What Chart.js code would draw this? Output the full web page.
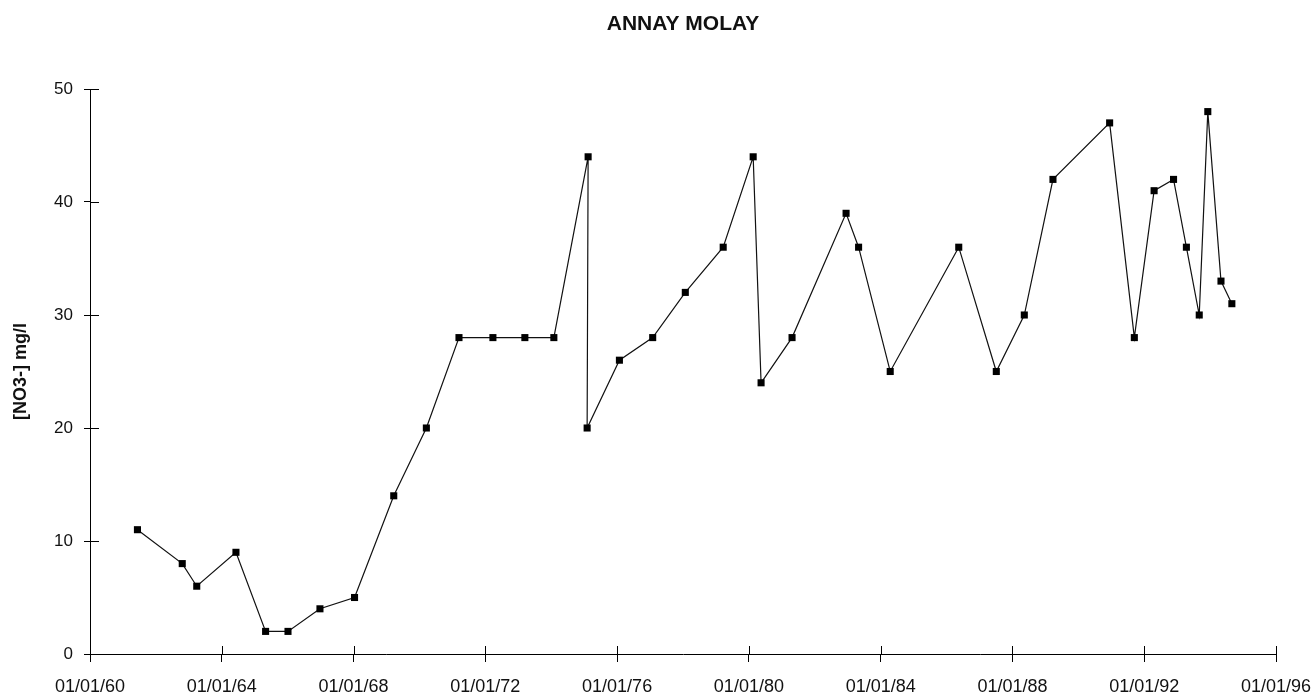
<!DOCTYPE html>
<html>
<head>
<meta charset="utf-8">
<script src="https://cdn.jsdelivr.net/npm/chart.js@4/dist/chart.umd.min.js"></script>
<style>
  html, body { margin: 0; padding: 0; background: #fff; }
  #wrap { width: 1312px; height: 697px; position: relative; }
</style>
</head>
<body>
<div id="wrap"><canvas id="no3Chart"></canvas></div>
<script>
// sample dates as decimal years
const sampleYears = [
  1961.44, 1962.80, 1963.24, 1964.43, 1965.33, 1966.01, 1966.98, 1968.03,
  1969.22, 1970.21, 1971.20, 1972.23, 1973.20, 1974.08, 1975.12, 1975.09,
  1976.07, 1977.08, 1978.07, 1979.22, 1980.13, 1980.37, 1981.31, 1982.95,
  1983.33, 1984.29, 1986.37, 1987.51, 1988.36, 1989.23, 1990.95, 1991.70,
  1992.30, 1992.89, 1993.28, 1993.67, 1993.93, 1994.33, 1994.66
];
// nitrate concentration, mg/l
const no3Values = [
  11, 8, 6, 9, 2, 2, 4, 5,
  14, 20, 28, 28, 28, 28, 44, 20,
  26, 28, 32, 36, 44, 24, 28, 39,
  36, 25, 36, 25, 30, 42, 47, 28,
  41, 42, 36, 30, 48, 33, 31
];
const xTickYears = [1960, 1964, 1968, 1972, 1976, 1980, 1984, 1988, 1992, 1996];
const yTickValues = [0, 10, 20, 30, 40, 50];
const chartTitle = "ANNAY MOLAY";

const points = sampleYears.map((yr, i) => ({ x: yr, y: no3Values[i] }));
const FONT = "Arial, 'Liberation Sans', sans-serif";

// ticks in the original cross the axis, so draw the inner half too
const innerTicks = {
  id: "innerTicks",
  afterDraw(chart) {
    const ctx = chart.ctx;
    const xs = chart.scales.x;
    const ys = chart.scales.y;
    ctx.save();
    ctx.strokeStyle = "#000";
    ctx.lineWidth = 1;
    ctx.beginPath();
    xTickYears.forEach((v) => {
      const px = Math.round(xs.getPixelForValue(v)) + 0.5;
      ctx.moveTo(px, xs.top);
      ctx.lineTo(px, xs.top - 8);
    });
    yTickValues.forEach((v) => {
      const py = Math.round(ys.getPixelForValue(v)) + 0.5;
      ctx.moveTo(ys.right, py);
      ctx.lineTo(ys.right + 9, py);
    });
    ctx.stroke();
    ctx.restore();
  },
};

// title is centred over the plot area, not the whole canvas
const plotTitle = {
  id: "plotTitle",
  afterDraw(chart) {
    const ctx = chart.ctx;
    const area = chart.chartArea;
    ctx.save();
    ctx.fillStyle = "#111";
    ctx.font = "bold 21px " + FONT;
    ctx.textAlign = "center";
    ctx.textBaseline = "middle";
    ctx.fillText(chartTitle, (area.left + area.right) / 2, 24);
    ctx.restore();
  },
};

new Chart(document.getElementById("no3Chart"), {
  type: "line",
  data: {
    datasets: [
      {
        label: "[NO3-] mg/l",
        data: points,
        borderColor: "#111",
        borderWidth: 1.2,
        backgroundColor: "#000",
        pointStyle: "rect",
        pointRadius: 5,
        pointBorderWidth: 0,
        pointBackgroundColor: "#000",
        tension: 0,
        fill: false,
      },
    ],
  },
  options: {
    responsive: true,
    maintainAspectRatio: false,
    animation: false,
    layout: { padding: { left: 0, right: 0, top: 89, bottom: 0 } },
    plugins: {
      legend: { display: false },
      tooltip: { enabled: false },
      title: { display: false },
    },
    scales: {
      x: {
        type: "linear",
        min: 1960,
        max: 1996,
        afterBuildTicks: (scale) => {
          scale.ticks = xTickYears.map((v) => ({ value: v }));
        },
        afterFit: (scale) => {
          scale.height = 43;
          scale.paddingRight = 36;
        },
        ticks: {
          color: "#111",
          padding: 14,
          maxRotation: 0,
          font: { family: FONT, size: 18 },
          callback: (v) => "01/01/" + String(v).slice(2),
        },
        grid: {
          display: true,
          drawOnChartArea: false,
          drawTicks: true,
          tickLength: 8,
          color: "#000",
        },
        border: { display: true, color: "#000", width: 1 },
      },
      y: {
        min: 0,
        max: 50,
        afterBuildTicks: (scale) => {
          scale.ticks = yTickValues.map((v) => ({ value: v }));
        },
        afterFit: (scale) => {
          scale.width = 90;
        },
        ticks: {
          color: "#111",
          padding: 11,
          font: { family: FONT, size: 17 },
        },
        grid: {
          display: true,
          drawOnChartArea: false,
          drawTicks: true,
          tickLength: 6,
          color: "#000",
        },
        border: { display: true, color: "#000", width: 1 },
        title: {
          display: true,
          text: "[NO3-] mg/l",
          color: "#111",
          font: { family: FONT, size: 18, weight: "bold" },
          padding: { top: 10, bottom: 0 },
        },
      },
    },
  },
  plugins: [innerTicks, plotTitle],
});
</script>
</body>
</html>
